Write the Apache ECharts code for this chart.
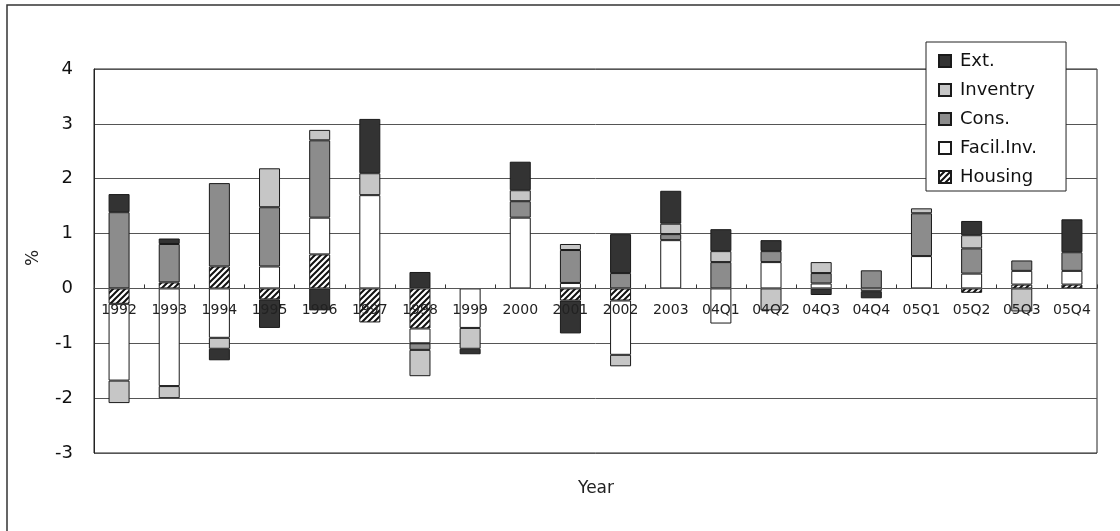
<!DOCTYPE html>
<html>
<head>
<meta charset="utf-8">
<script src="https://cdn.jsdelivr.net/npm/echarts@6/dist/echarts.min.js"></script>
<style>
html,body{margin:0;padding:0;background:#fff;}
#chart{width:1120px;height:531px;}
</style>
</head>
<body>
<div id="chart"></div>
<script>
const categories = ['1992','1993','1994','1995','1996','1997','1998','1999','2000','2001','2002','2003','04Q1','04Q2','04Q3','04Q4','05Q1','05Q2','05Q3','05Q4'];
const housing = [-0.28, 0.11, 0.40, -0.20, 0.62, -0.62, -0.73, null, null, -0.22, -0.22, null, null, null, null, null, null, -0.08, 0.07, 0.07];
const facilInv = [-1.40, -1.78, -0.90, 0.40, 0.67, 1.70, -0.27, -0.72, 1.29, 0.10, -0.99, 0.88, -0.64, 0.48, 0.09, -0.05, 0.59, 0.27, 0.25, 0.25];
const cons = [1.39, 0.70, 1.52, 1.08, 1.41, null, -0.12, null, 0.30, 0.60, 0.28, 0.11, 0.48, 0.20, 0.19, 0.33, 0.78, 0.46, 0.19, 0.34];
const inventry = [-0.41, -0.22, -0.20, 0.71, 0.19, 0.40, -0.48, -0.38, 0.20, 0.11, -0.21, 0.19, 0.20, -0.40, 0.20, null, 0.09, 0.24, -0.42, null];
const ext = [0.33, 0.10, -0.21, -0.52, -0.40, 0.99, 0.30, -0.10, 0.52, -0.60, 0.71, 0.60, 0.40, 0.20, -0.12, -0.13, null, 0.26, null, 0.60];
const yTicks = [-3, -2, -1, 0, 1, 2, 3, 4];

function hatch() {
  const c = document.createElement('canvas');
  c.width = 6; c.height = 6;
  const g = c.getContext('2d');
  g.fillStyle = '#fff'; g.fillRect(0, 0, 6, 6);
  g.strokeStyle = '#111'; g.lineWidth = 2;
  g.beginPath();
  g.moveTo(-1, 7); g.lineTo(7, -1);
  g.moveTo(-4, 4); g.lineTo(4, -4);
  g.moveTo(2, 10); g.lineTo(10, 2);
  g.stroke();
  return c;
}

const gridTop = 69, gridBottom = 78, H = 531;
const yMin = yTicks[0], yMax = yTicks[yTicks.length - 1];
const plotH = H - gridTop - gridBottom;
// move the category axis from the grid bottom up to the value 0 line
const zeroOffset = -plotH * (0 - yMin) / (yMax - yMin);

const chart = echarts.init(document.getElementById('chart'));
const border = {borderColor: '#1a1a1a', borderWidth: 1};
function mk(name, data, color) {
  return {
    name: name, type: 'bar', stack: 'total', data: data, barWidth: 21,
    itemStyle: Object.assign({color: color}, border),
    emphasis: {disabled: true}
  };
}
chart.setOption({
  animation: false,
  backgroundColor: '#fff',
  textStyle: {fontFamily: 'DejaVu Sans'},
  grid: {left: 94, right: 23, top: gridTop, bottom: gridBottom, show: true, borderColor: '#222', borderWidth: 1, backgroundColor: 'transparent'},
  legend: {
    orient: 'vertical', left: 926, top: 42, icon: 'rect',
    data: ['Ext.', 'Inventry', 'Cons.', 'Facil.Inv.', 'Housing'],
    itemWidth: 12, itemHeight: 12, itemGap: 11,
    padding: [10, 29, 5, 12],
    backgroundColor: '#fff', borderColor: '#222', borderWidth: 1,
    textStyle: {fontFamily: 'DejaVu Sans', fontSize: 18, color: '#111', padding: [0, 0, 0, 4]},
    selectedMode: false
  },
  xAxis: {
    type: 'category', data: categories, z: 10,
    position: 'bottom', offset: zeroOffset,
    axisLine: {onZero: false, lineStyle: {color: '#555', width: 1}},
    axisTick: {show: true, inside: true, length: 4, lineStyle: {color: '#333'}},
    axisLabel: {fontFamily: 'DejaVu Sans', fontSize: 14, color: '#222', margin: 15, interval: 0}
  },
  yAxis: {
    type: 'value', min: yMin, max: yMax, interval: 1,
    axisLine: {show: true, onZero: false, lineStyle: {color: '#222'}},
    axisTick: {show: false},
    axisLabel: {fontFamily: 'DejaVu Sans', fontSize: 18, color: '#111', margin: 21},
    splitLine: {lineStyle: {color: '#555', width: 1}}
  },
  graphic: [
    {type: 'rect', shape: {x: 7, y: 5, width: 1130, height: 560}, style: {fill: 'none', stroke: '#333', lineWidth: 1.5}, silent: true},
    {type: 'text', x: 596, y: 489, style: {text: 'Year', font: '17px "DejaVu Sans"', fill: '#222', textAlign: 'center', textVerticalAlign: 'middle'}},
    {type: 'text', x: 34, y: 258, rotation: Math.PI / 2, style: {text: '%', font: '17px "DejaVu Sans"', fill: '#222', textAlign: 'center', textVerticalAlign: 'middle'}}
  ],
  series: [
    mk('Housing', housing, {image: hatch(), repeat: 'repeat'}),
    mk('Facil.Inv.', facilInv, '#ffffff'),
    mk('Cons.', cons, '#8c8c8c'),
    mk('Inventry', inventry, '#c6c6c6'),
    mk('Ext.', ext, '#333333')
  ]
});
</script>
</body>
</html>
